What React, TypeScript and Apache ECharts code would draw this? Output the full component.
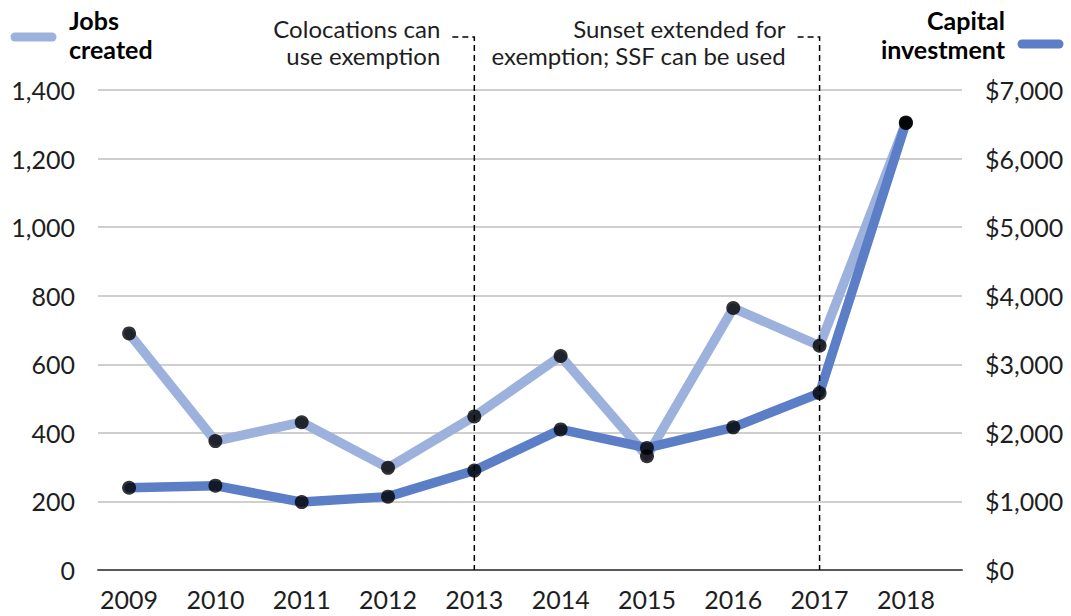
import React, { useEffect, useRef } from "react";
import * as echarts from "echarts";

const years = [2009, 2010, 2011, 2012, 2013, 2014, 2015, 2016, 2017, 2018];
const jobsCreated = [690, 376, 431, 298, 448, 624, 332, 764, 654, 1305];
const capitalInvestment = [1200, 1230, 990, 1070, 1450, 2050, 1780, 2080, 2580, 6520];
const annotationYears = [2013, 2017];
const annotationLines = [
  ["Colocations can", "use exemption"],
  ["Sunset extended for", "exemption; SSF can be used"],
];
const jobsLabel = ["Jobs", "created"];
const capitalLabel = ["Capital", "investment"];

const FONT = 'Lato, "Open Sans", sans-serif';
const LIGHT = "#9DB1DD";
const DARK = "#5B7EC7";
const TEXT = "#1e1e1e";

export default function App() {
  const ref = useRef<HTMLDivElement>(null);

  useEffect(() => {
    if (!ref.current) return;
    const chart = echarts.init(ref.current, null, { renderer: "svg" });
    const labelStyle = { fontSize: 25, color: TEXT, fontFamily: FONT };
    chart.setOption({
      animation: false,
      grid: { left: 98, right: 109, top: 90, bottom: 46 },
      xAxis: {
        type: "value",
        min: 2008.64,
        max: 2018.65,
        axisLine: { show: true, onZero: false, lineStyle: { color: "#595959", width: 2 } },
        axisTick: { show: false },
        splitLine: { show: false },
        axisLabel: {
          ...labelStyle,
          customValues: years,
          formatter: (v: number) => String(v),
          margin: 16,
        },
      },
      yAxis: [
        {
          type: "value",
          min: 0,
          max: 1400,
          interval: 200,
          axisLine: { show: false },
          axisTick: { show: false },
          splitLine: { show: true, lineStyle: { color: "#BFBFBF", width: 1.5 } },
          axisLabel: {
            ...labelStyle,
            margin: 23,
            formatter: (v: number) => v.toLocaleString("en-US"),
          },
        },
        {
          type: "value",
          position: "right",
          min: 0,
          max: 7000,
          interval: 1000,
          axisLine: { show: false },
          axisTick: { show: false },
          splitLine: { show: false },
          axisLabel: {
            ...labelStyle,
            margin: 23,
            formatter: (v: number) => "$" + v.toLocaleString("en-US"),
          },
        },
      ],
      series: [
        {
          type: "line",
          yAxisIndex: 0,
          data: years.map((y, i) => [y, jobsCreated[i]]),
          showSymbol: false,
          lineStyle: { color: LIGHT, width: 9.5, cap: "round", join: "round" },
          z: 2,
        },
        {
          type: "line",
          yAxisIndex: 1,
          data: years.map((y, i) => [y, capitalInvestment[i]]),
          showSymbol: false,
          lineStyle: { color: DARK, width: 9.5, cap: "round", join: "round" },
          z: 3,
        },
        {
          type: "scatter",
          yAxisIndex: 0,
          data: years.map((y, i) => [y, jobsCreated[i]]),
          symbolSize: 14,
          itemStyle: { color: "#000" },
          z: 5,
        },
        {
          type: "scatter",
          yAxisIndex: 1,
          data: years.map((y, i) => [y, capitalInvestment[i]]),
          symbolSize: 14,
          itemStyle: { color: "#000" },
          z: 5,
        },
      ],
    });

    const graphics: any[] = [];
    const dash = { stroke: "#000", lineWidth: 1.5, lineDash: [6, 4], fill: null };
    annotationYears.forEach((yr, k) => {
      const base = chart.convertToPixel({ xAxisIndex: 0, yAxisIndex: 0 }, [yr, 0]) as number[];
      const x = base[0];
      graphics.push({
        type: "polyline",
        shape: { points: [[x - 22, 37], [x, 37], [x, base[1]]] },
        style: dash,
        z: 10,
      });
      annotationLines[k].forEach((t, j) => {
        graphics.push({
          type: "text",
          x: x - 34,
          y: 28 + j * 27,
          style: { text: t, font: `24px ${FONT}`, fill: TEXT, align: "right", verticalAlign: "middle" },
          z: 10,
        });
      });
    });
    // legends
    graphics.push({
      type: "line",
      shape: { x1: 15, y1: 37, x2: 52, y2: 37 },
      style: { stroke: LIGHT, lineWidth: 9, lineCap: "round" },
    });
    graphics.push({
      type: "text",
      x: 69,
      y: 34,
      style: {
        text: jobsLabel.join("\n"),
        font: `bold 25px ${FONT}`,
        lineHeight: 29,
        fill: "#000",
        align: "left",
        verticalAlign: "middle",
      },
    });
    graphics.push({
      type: "line",
      shape: { x1: 1022, y1: 44, x2: 1059, y2: 44 },
      style: { stroke: DARK, lineWidth: 9, lineCap: "round" },
    });
    graphics.push({
      type: "text",
      x: 1005,
      y: 34,
      style: {
        text: capitalLabel.join("\n"),
        font: `bold 25px ${FONT}`,
        lineHeight: 29,
        fill: "#000",
        align: "right",
        verticalAlign: "middle",
      },
    });
    chart.setOption({ graphic: graphics });

    return () => chart.dispose();
  }, []);

  return (
    <div
      ref={ref}
      style={{ position: "absolute", left: 0, top: 0, width: 1071, height: 616, background: "#fff" }}
    />
  );
}
